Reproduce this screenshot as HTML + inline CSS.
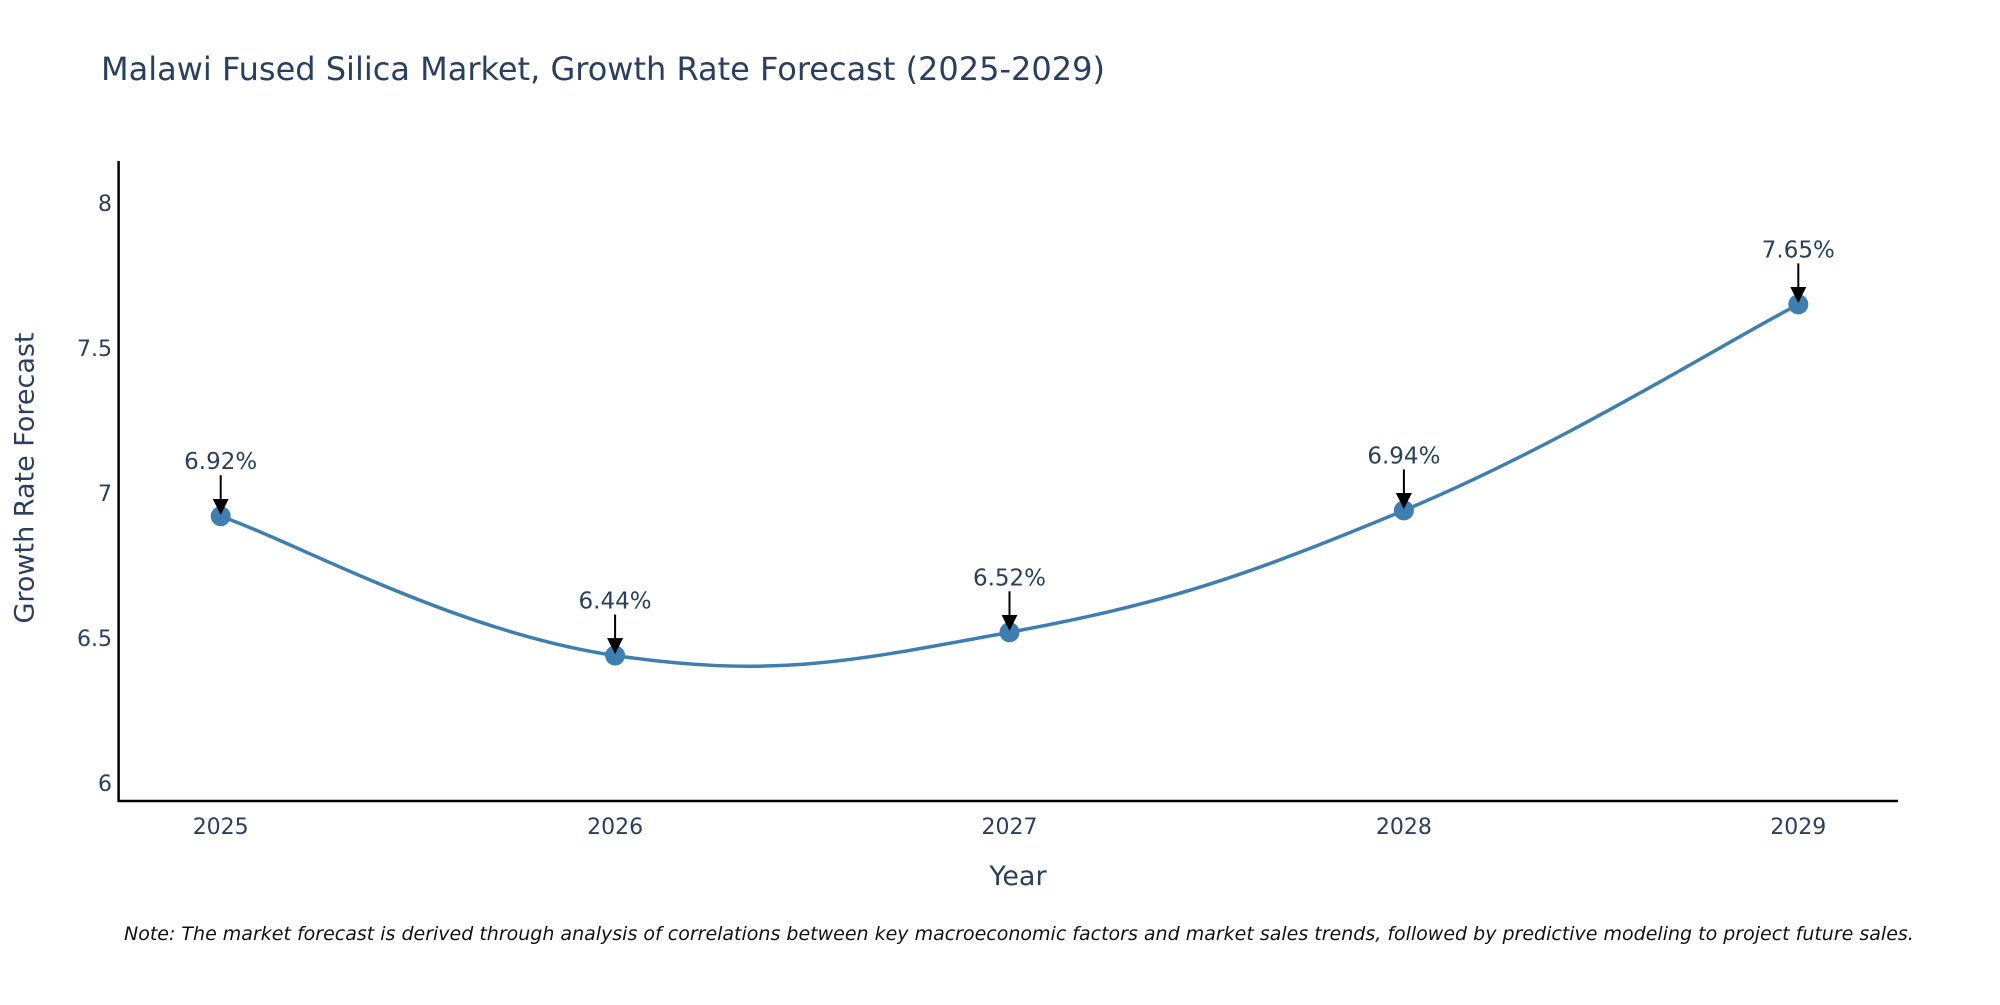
<!DOCTYPE html>
<html><head><meta charset="utf-8"><style>
body{margin:0;background:#fff;overflow:hidden;}
svg text{font-family:"DejaVu Sans","Liberation Sans",sans-serif;fill:#2a3f5f;}
</style></head><body>
<svg id="chart" width="2000" height="1000" xmlns="http://www.w3.org/2000/svg">
<text x="101" y="80" font-size="32">Malawi Fused Silica Market, Growth Rate Forecast (2025-2029)</text>
<g id="yticks"></g>
<g id="xticks"></g>
<line x1="118.6" y1="161" x2="118.6" y2="801" stroke="#000" stroke-width="2.5"/>
<line x1="117.5" y1="801" x2="1898" y2="801" stroke="#000" stroke-width="2.5"/>
<path id="line" fill="none" stroke="#3d7fb1" stroke-width="3.5"/>
<g id="marks"></g>
<text x="26" y="478" font-size="27" text-anchor="middle" transform="rotate(-90 26 478)" dominant-baseline="middle">Growth Rate Forecast</text>
<text x="1018" y="885" font-size="27" text-anchor="middle">Year</text>
<text x="124" y="940" font-size="19" font-style="italic" style="fill:#111">Note: The market forecast is derived through analysis of correlations between key macroeconomic factors and market sales trends, followed by predictive modeling to project future sales.</text>
<defs><marker id="ah" viewBox="0 0 10 10" refX="10" refY="5" markerWidth="7" markerHeight="7" markerUnits="userSpaceOnUse" orient="auto"><path d="M0,0 L10,5 L0,10 z" fill="#000"/></marker>
<marker id="ah2" viewBox="0 0 10 10" refX="9" refY="5" markerWidth="16" markerHeight="16" markerUnits="userSpaceOnUse" orient="auto"><path d="M0,0 L10,5 L0,10 z" fill="#000"/></marker></defs>
</svg>
<script>
const years=["2025","2026","2027","2028","2029"];
const values=[6.92,6.44,6.52,6.94,7.65];
const yTicks=[6,6.5,7,7.5,8];
const yTickLabels=["6","6.5","7","7.5","8"];
const NS="http://www.w3.org/2000/svg";
function xs(i){return 220.7+i*394.4;}
function ys(v){return 783.2-(v-6)*290.2;}
function mk(tag,attrs,parent){const e=document.createElementNS(NS,tag);for(const k in attrs)e.setAttribute(k,attrs[k]);parent.appendChild(e);return e;}
const yg=document.getElementById('yticks');
yTicks.forEach((t,i)=>{const e=mk('text',{x:112,y:ys(t)+8,'font-size':22,'text-anchor':'end'},yg);


e.textContent=yTickLabels[i];});
const xg=document.getElementById('xticks');
years.forEach((y,i)=>{const e=mk('text',{x:xs(i),y:834,'font-size':22,'text-anchor':'middle'},xg);


e.textContent=y;});
const pts=values.map((v,i)=>[xs(i),ys(v)]);
let d='M'+pts[0][0]+','+pts[0][1];
const s=0.2;
for(let i=0;i<pts.length-1;i++){const p0=pts[i-1]||pts[i],p1=pts[i],p2=pts[i+1],p3=pts[i+2]||p2;
const c1=[p1[0]+(p2[0]-p0[0])*s,p1[1]+(p2[1]-p0[1])*s],c2=[p2[0]-(p3[0]-p1[0])*s,p2[1]-(p3[1]-p1[1])*s];
d+=` C${c1[0]},${c1[1]} ${c2[0]},${c2[1]} ${p2[0]},${p2[1]}`;}
document.getElementById('line').setAttribute('d',d);
const mg=document.getElementById('marks');
pts.forEach((p,i)=>{const c=mk('circle',{cx:p[0],cy:p[1],r:10,fill:'#3d7fb1'},mg);


const a=mk('line',{x1:p[0],y1:p[1]-41,x2:p[0],y2:p[1]-3,stroke:'#000','stroke-width':2,'marker-end':'url(#ah2)'},mg);


const t=mk('text',{x:p[0],y:p[1]-47,'font-size':23,'text-anchor':'middle'},mg);


t.textContent=values[i].toFixed(2)+'%';});
</script>
</body></html>
